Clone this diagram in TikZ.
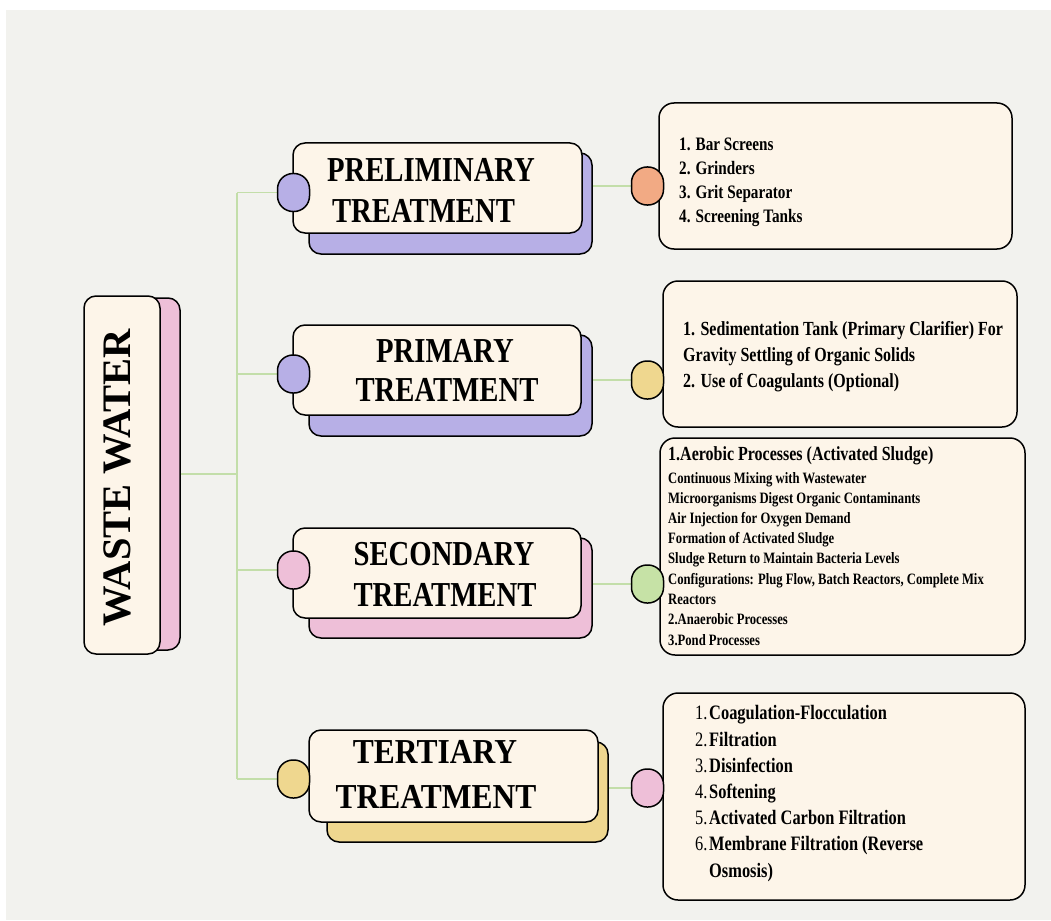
\documentclass[tikz,border=0pt]{standalone}
\usepackage{fontspec}
\setmainfont{Liberation Serif}
\newfontfamily\hfont[FakeStretch=0.82]{Liberation Serif}
\newfontfamily\htfont[FakeStretch=0.9]{Liberation Serif}
\newfontfamily\lfont[FakeStretch=0.8]{Liberation Serif}
\definecolor{paper}{HTML}{F2F2EE}
\definecolor{cream}{HTML}{FDF5E9}
\definecolor{lav}{HTML}{B7AFE6}
\definecolor{pinkc}{HTML}{EEBFD8}
\definecolor{yel}{HTML}{EFD78F}
\definecolor{orng}{HTML}{F2AA84}
\definecolor{grn}{HTML}{C6E2A6}
\definecolor{lgrn}{HTML}{C3DEA9}
\tikzset{
  box/.style={draw=black, line width=1.5pt, rounded corners=12pt, inner sep=0pt},
  front/.style={box, fill=cream},
  detail/.style={box, fill=cream, rounded corners=15pt},
  shade/.style={box, fill=#1},
  knob/.style={draw=black, line width=1.5pt, rounded corners=15.5pt, fill=#1,
    minimum width=32pt, minimum height=38pt, inner sep=0pt},
  conn/.style={draw=lgrn, line width=1.3pt},
  hd/.style={font=\hfont\bfseries\fontsize{35}{40}\selectfont, anchor=base, inner sep=0pt},
  hdt/.style={font=\htfont\bfseries\fontsize{35}{40}\selectfont, anchor=base, inner sep=0pt},
  li/.style={anchor=base west, inner sep=0pt, font=\lfont\bfseries\fontsize{#1}{#1}\selectfont},
  li/.default=19,
  num/.style={anchor=base west, inner sep=0pt, font=\lfont\fontsize{20.5}{20.5}\selectfont}
}
\begin{document}
\begin{tikzpicture}[x=1pt,y=-1pt]
\useasboundingbox (0,0) rectangle (1051,920);
\fill[white] (0,0) rectangle (1051,920);
\fill[paper] (6,10) rectangle (1051,920);

\coordinate (tr) at (237,0);

% root box
\node[shade=pinkc, minimum width=76pt, minimum height=352pt] (wwsh) at (142,474) {};
\node[front, minimum width=76pt, minimum height=358pt] (ww) at (122,475) {};
\node[rotate=90, inner sep=0pt, font=\bfseries\fontsize{40.5}{42}\selectfont] (wwt) at (117.5,477.5) {WASTE WATER};

% heading shadows
\node[shade=lav, minimum width=283pt, minimum height=101pt] (s1) at (450.5,203.5) {};
\node[shade=lav, minimum width=283pt, minimum height=101pt] (s2) at (450.5,385.5) {};
\node[shade=pinkc, minimum width=283pt, minimum height=100pt] (s3) at (450.5,588) {};
\node[shade=yel, minimum width=281pt, minimum height=100pt] (s4) at (467.5,792) {};

% knob positions
\coordinate (c1p) at (293.5,192.5);
\coordinate (c2p) at (293.5,374);
\coordinate (c3p) at (293.5,570);
\coordinate (c4p) at (293.5,779);
\coordinate (r1p) at (647.5,186);
\coordinate (r2p) at (647.5,380);
\coordinate (r3p) at (647.5,584);
\coordinate (r4p) at (647.5,788);

% connectors
\draw[conn] (wwsh.east) -- (wwsh.east -| tr);
\draw[conn] (c1p -| tr) -- (c4p -| tr);
\draw[conn] (c1p -| tr) -- (c1p);
\draw[conn] (c2p -| tr) -- (c2p);
\draw[conn] (c3p -| tr) -- (c3p);
\draw[conn] (c4p -| tr) -- (c4p);
\draw[conn] (r1p -| s1.east) -- (r1p);
\draw[conn] (r2p -| s2.east) -- (r2p);
\draw[conn] (r3p -| s3.east) -- (r3p);
\draw[conn] (r4p -| s4.east) -- (r4p);

% heading fronts
\node[front, minimum width=289pt, minimum height=90pt] (f1) at (437.5,188) {};
\node[front, minimum width=288pt, minimum height=90pt] (f2) at (437,370) {};
\node[front, minimum width=288pt, minimum height=90pt] (f3) at (437,573) {};
\node[front, minimum width=289pt, minimum height=92pt] (f4) at (453.5,776) {};

% detail boxes
\node[detail, minimum width=353pt, minimum height=146pt] (d1) at (835.5,176) {};
\node[detail, minimum width=354pt, minimum height=146pt] (d2) at (840,354) {};
\node[detail, minimum width=365pt, minimum height=217pt] (d3) at (842.5,546.5) {};
\node[detail, minimum width=362pt, minimum height=207pt] (d4) at (844,796.5) {};

% knobs
\node[knob=lav] (c1) at (c1p) {};
\node[knob=lav] (c2) at (c2p) {};
\node[knob=pinkc] (c3) at (c3p) {};
\node[knob=yel] (c4) at (c4p) {};
\node[knob=orng] (r1) at (r1p) {};
\node[knob=yel] (r2) at (r2p) {};
\node[knob=grn] (r3) at (r3p) {};
\node[knob=pinkc] (r4) at (r4p) {};

% headings
\node[hd] (h1a) at (431,182) {PRELIMINARY};
\node[hd] (h1b) at (423.5,222) {TREATMENT};
\node[hd] (h2a) at (445,362) {PRIMARY};
\node[hd] (h2b) at (447,401) {TREATMENT};
\node[hd] (h3a) at (444,565) {SECONDARY};
\node[hd] (h3b) at (445,606) {TREATMENT};
\node[hdt] (h4a) at (435,763) {TERTIARY};
\node[hdt] (h4b) at (436,808) {TREATMENT};

% list 1
\node[li] (l1a) at (679,151) {1. Bar Screens};
\node[li] (l1b) at (679,175) {2. Grinders};
\node[li] (l1c) at (679,198.5) {3. Grit Separator};
\node[li] (l1d) at (679,222) {4. Screening Tanks};

% list 2
\node[li=20] (l2a) at (683,335) {1. Sedimentation Tank (Primary Clarifier) For};
\node[li=20] (l2b) at (683,361) {Gravity Settling of Organic Solids};
\node[li=20] (l2c) at (683,387) {2. Use of Coagulants (Optional)};

% list 3
\node[li=20] (l3a) at (668,460) {1.Aerobic Processes (Activated Sludge)};
\node[li=15.8] (l3b) at (668,483) {Continuous Mixing with Wastewater};
\node[li=15.8] (l3c) at (668,503) {Microorganisms Digest Organic Contaminants};
\node[li=15.8] (l3d) at (668,523) {Air Injection for Oxygen Demand};
\node[li=15.8] (l3e) at (668,543) {Formation of Activated Sludge};
\node[li=15.8] (l3f) at (668,563) {Sludge Return to Maintain Bacteria Levels};
\node[li=15.8] (l3g) at (668,584) {Configurations: Plug Flow, Batch Reactors, Complete Mix};
\node[li=15.8] (l3h) at (668,604) {Reactors};
\node[li=15.8] (l3i) at (668,624) {2.Anaerobic Processes};
\node[li=15.8] (l3j) at (668,645) {3.Pond Processes};

% list 4
\node[num] (n41) at (695,719) {1.};
\node[num] (n42) at (695,746) {2.};
\node[num] (n43) at (695,772) {3.};
\node[num] (n44) at (695,798) {4.};
\node[num] (n45) at (695,824) {5.};
\node[num] (n46) at (695,850) {6.};
\node[li=20.5] (l4a) at (709,719) {Coagulation-Flocculation};
\node[li=20.5] (l4b) at (709,746) {Filtration};
\node[li=20.5] (l4c) at (709,772) {Disinfection};
\node[li=20.5] (l4d) at (709,798) {Softening};
\node[li=20.5] (l4e) at (709,824) {Activated Carbon Filtration};
\node[li=20.5] (l4f) at (709,850) {Membrane Filtration (Reverse};
\node[li=20.5] (l4g) at (709,877) {Osmosis)};
\end{tikzpicture}
\end{document}
